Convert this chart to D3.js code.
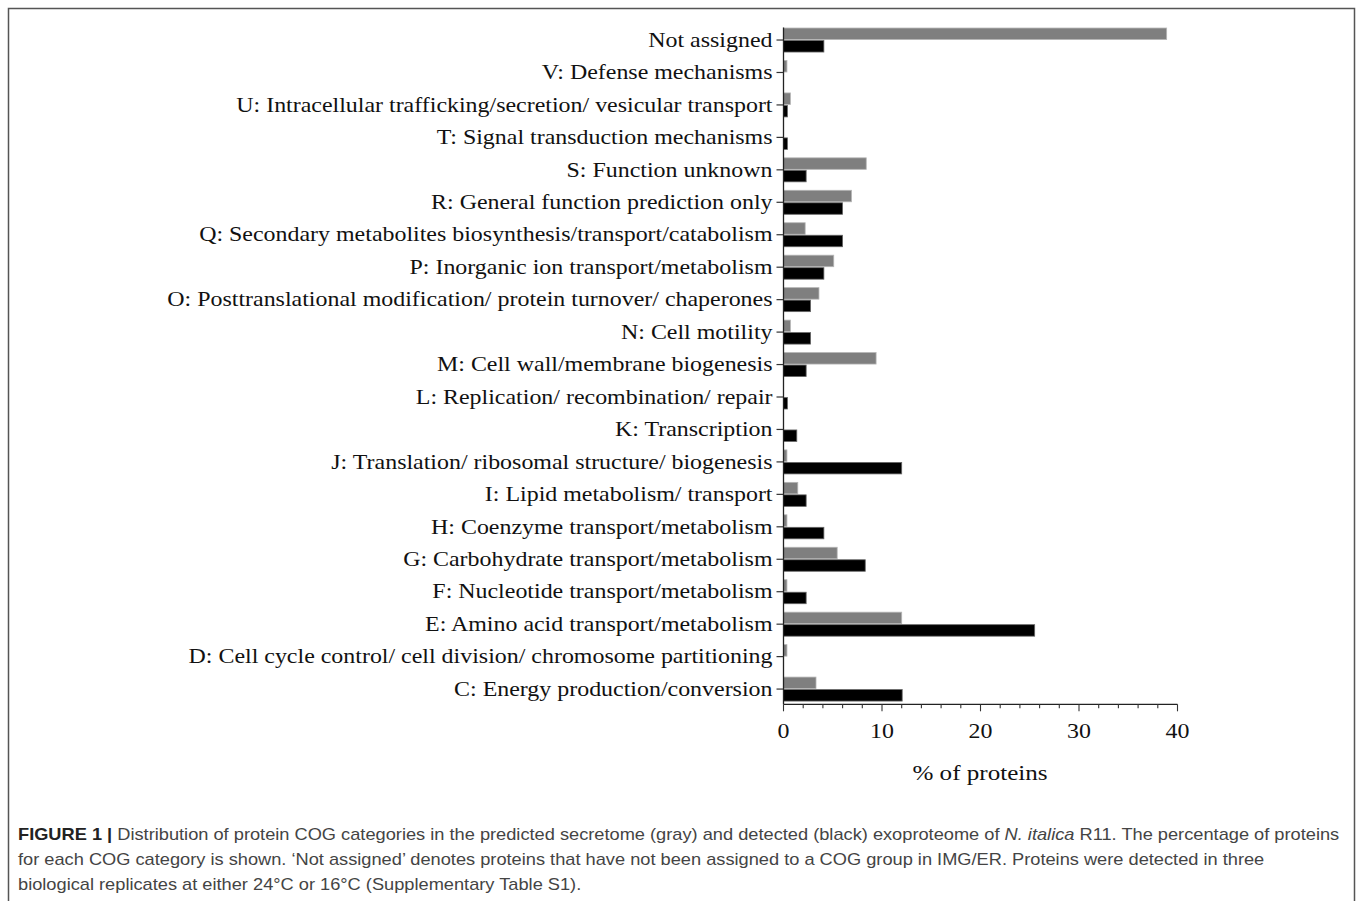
<!DOCTYPE html>
<html lang="en">
<head>
  <meta charset="UTF-8" />
  <title>COG categories</title>
  <script src="https://d3js.org/d3.v7.min.js"></script>
  <style>
    body {
      margin: 0;
      padding: 0;
      background: white;
    }
    .cat-label, .tick-label, .axis-title {
      font-family: "Liberation Serif", "DejaVu Serif", serif;
      fill: #111;
    }
    .caption {
      font-family: "Liberation Sans", Arial, sans-serif;
      fill: #444;
      font-size: 16px;
    }
  </style>
</head>
<body>
  <svg id="chart" width="1360" height="901"></svg>

  <script>
    // COG categories, top to bottom
    const categories = [
      "Not assigned",
      "V: Defense mechanisms",
      "U: Intracellular trafficking/secretion/ vesicular transport",
      "T: Signal transduction mechanisms",
      "S: Function unknown",
      "R: General function prediction only",
      "Q: Secondary metabolites biosynthesis/transport/catabolism",
      "P: Inorganic ion transport/metabolism",
      "O: Posttranslational modification/ protein turnover/ chaperones",
      "N: Cell motility",
      "M: Cell wall/membrane biogenesis",
      "L: Replication/ recombination/ repair",
      "K: Transcription",
      "J: Translation/ ribosomal structure/ biogenesis",
      "I: Lipid metabolism/ transport",
      "H: Coenzyme transport/metabolism",
      "G: Carbohydrate transport/metabolism",
      "F: Nucleotide transport/metabolism",
      "E: Amino acid transport/metabolism",
      "D: Cell cycle control/ cell division/ chromosome partitioning",
      "C: Energy production/conversion"
    ];

    // predicted secretome (gray)
    const secretome = [38.9, 0.35, 0.7, 0, 8.4, 6.9, 2.2, 5.1, 3.6, 0.7, 9.4,
                       0, 0, 0.35, 1.45, 0.35, 5.45, 0.35, 12.0, 0.35, 3.3];
    // detected exoproteome (black)
    const detected = [4.1, 0, 0.4, 0.4, 2.3, 6.0, 6.0, 4.1, 2.75, 2.75, 2.3,
                      0.4, 1.35, 12.0, 2.3, 4.1, 8.3, 2.3, 25.5, 0, 12.05];

    const xTicks = [0, 10, 20, 30, 40];
    const xMinorTicks = d3.range(0, 41, 2);

    const captionLines = [
      [{ t: "FIGURE 1 | ", b: true }, { t: "Distribution of protein COG categories in the predicted secretome (gray) and detected (black) exoproteome of " },
       { t: "N. italica", i: true }, { t: " R11. The percentage of proteins" }],
      [{ t: "for each COG category is shown. \u2018Not assigned\u2019 denotes proteins that have not been assigned to a COG group in IMG/ER. Proteins were detected in three" }],
      [{ t: "biological replicates at either 24\u00b0C or 16\u00b0C (Supplementary Table S1)." }]
    ];

    // the figure's text is drawn slightly wide
    const stretch = 1.14;
    const place = (px, py) => `translate(${px},${py}) scale(${stretch},1)`;

    const svg = d3.select("#chart");

    // frame around figure
    svg.append("path")
      .attr("d", "M8.5,901 V8.5 H1354.5 V901")
      .attr("fill", "none")
      .attr("stroke", "#555")
      .attr("stroke-width", 1.5);

    const x0 = 783.5, x1 = 1177.5;
    const yTop = 23.8, yBottom = 705.3;

    const x = d3.scaleLinear().domain([0, 40]).range([x0, x1]);
    const y = d3.scaleBand().domain(categories).range([yTop, yBottom]).padding(0);
    const barH = 11.5;

    const rows = categories.map((c, i) => ({ cat: c, gray: secretome[i], black: detected[i] }));

    // gray bars
    svg.selectAll(".bar-gray")
      .data(rows.filter(d => d.gray > 0))
      .join("rect")
      .attr("class", "bar-gray")
      .attr("x", x(0))
      .attr("y", d => y(d.cat) + y.bandwidth() / 2 - barH - 0.5)
      .attr("width", d => x(d.gray) - x(0))
      .attr("height", barH)
      .attr("fill", "#7f7f7f")
      .attr("stroke", "#b5b5b5")
      .attr("stroke-width", 0.8);

    // black bars
    svg.selectAll(".bar-black")
      .data(rows.filter(d => d.black > 0))
      .join("rect")
      .attr("class", "bar-black")
      .attr("x", x(0))
      .attr("y", d => y(d.cat) + y.bandwidth() / 2 + 0.5)
      .attr("width", d => x(d.black) - x(0))
      .attr("height", barH)
      .attr("fill", "#000")
      .attr("stroke", "#666")
      .attr("stroke-width", 0.8);

    // y axis line and ticks
    const axisY = yBottom - 1;
    svg.append("line")
      .attr("x1", x0).attr("x2", x0)
      .attr("y1", y(categories[0]) + y.bandwidth() / 2 - barH - 1)
      .attr("y2", axisY)
      .attr("stroke", "#222").attr("stroke-width", 1.3);

    svg.selectAll(".ytick")
      .data(categories)
      .join("line")
      .attr("class", "ytick")
      .attr("x1", x0 - 7).attr("x2", x0)
      .attr("y1", d => y(d) + y.bandwidth() / 2)
      .attr("y2", d => y(d) + y.bandwidth() / 2)
      .attr("stroke", "#333").attr("stroke-width", 1.2);

    svg.selectAll(".cat-label")
      .data(categories)
      .join("text")
      .attr("class", "cat-label")
      .attr("transform", d => place(x0 - 11, y(d) + y.bandwidth() / 2))
      .attr("dy", "0.32em")
      .attr("text-anchor", "end")
      .style("font-size", "21px")
      .text(d => d);

    // x axis
    svg.append("line")
      .attr("x1", x0).attr("x2", x1)
      .attr("y1", axisY).attr("y2", axisY)
      .attr("stroke", "#222").attr("stroke-width", 1.3);

    svg.selectAll(".xminor")
      .data(xMinorTicks)
      .join("line")
      .attr("class", "xminor")
      .attr("x1", d => x(d)).attr("x2", d => x(d))
      .attr("y1", axisY)
      .attr("y2", d => axisY + (d % 10 === 0 ? 7 : 4))
      .attr("stroke", "#333").attr("stroke-width", 1.1);

    svg.selectAll(".tick-label")
      .data(xTicks)
      .join("text")
      .attr("class", "tick-label")
      .attr("transform", d => place(x(d), 731))
      .attr("dy", "0.35em")
      .attr("text-anchor", "middle")
      .style("font-size", "21px")
      .text(d => d);

    svg.append("text")
      .attr("class", "axis-title")
      .attr("transform", place(980, 772))
      .attr("dy", "0.35em")
      .attr("text-anchor", "middle")
      .style("font-size", "22px")
      .text("% of proteins");

    // caption
    const capBase = [840, 865, 890];
    captionLines.forEach((parts, li) => {
      const t = svg.append("text")
        .attr("class", "caption")
        .attr("transform", place(18, capBase[li]));
      parts.forEach(p => {
        t.append("tspan")
          .style("font-weight", p.b ? "bold" : null)
          .style("font-style", p.i ? "italic" : null)
          .style("fill", p.b ? "#222" : null)
          .text(p.t);
      });
    });
  </script>
</body>
</html>
